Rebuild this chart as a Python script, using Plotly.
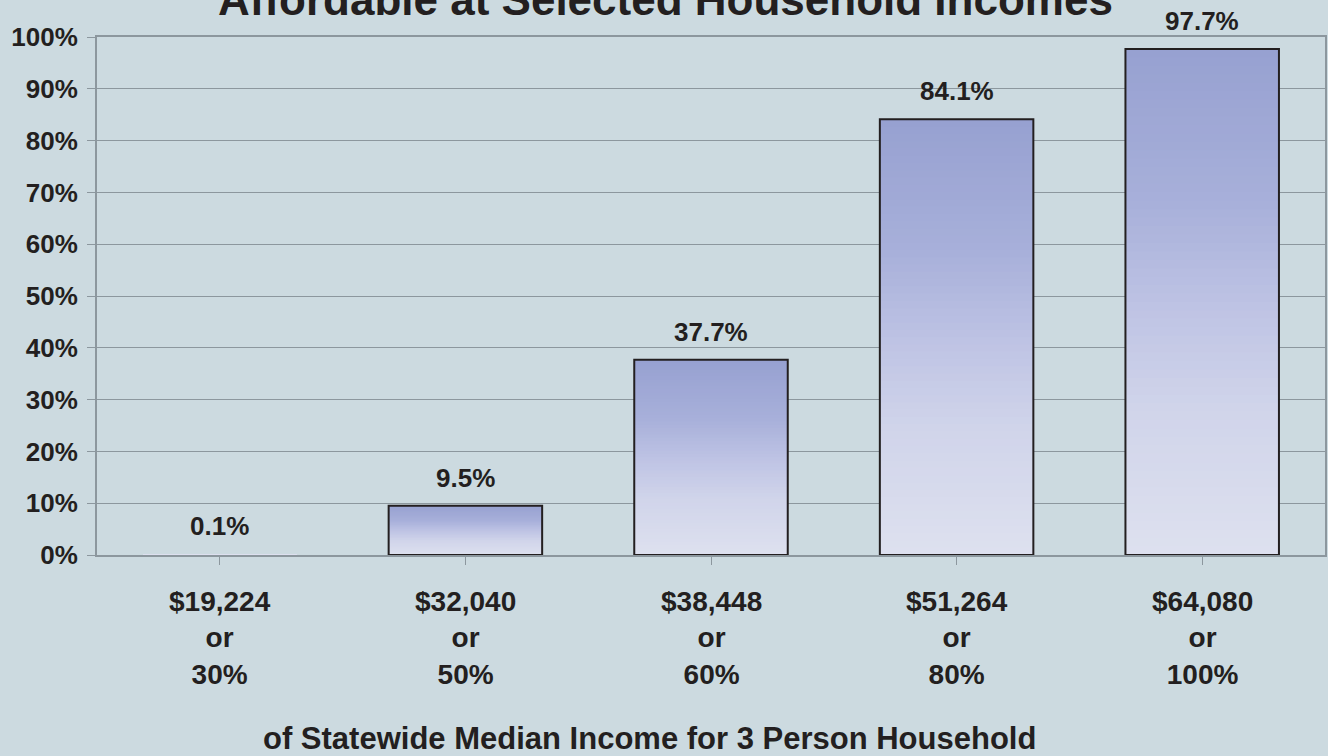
import plotly.graph_objects as go

# ---- data ----
income_labels = ["$19,224", "$32,040", "$38,448", "$51,264", "$64,080"]
pct_of_median = ["30%", "50%", "60%", "80%", "100%"]
share_affordable = [0.1, 9.5, 37.7, 84.1, 97.7]
value_labels = ["0.1%", "9.5%", "37.7%", "84.1%", "97.7%"]
y_ticks = [0, 10, 20, 30, 40, 50, 60, 70, 80, 90, 100]
y_tick_text = [f"{t}%" for t in y_ticks]

title_text = "Affordable at Selected Household Incomes"
xaxis_title = "of Statewide Median Income for 3 Person Household"

# ---- style ----
BG = "#CCDAE0"
TXT = "#231F20"
GRID = "#8C979E"
FONT = "Liberation Sans, Arial, sans-serif"

# gradient stops (fraction of bar height -> rgb)
stops = [(0.0, (222, 225, 239)), (0.3, (208, 212, 234)), (0.5, (190, 195, 228)),
         (0.7, (168, 176, 218)), (1.0, (151, 161, 209))]


def grad_color(f):
    for (f0, c0), (f1, c1) in zip(stops[:-1], stops[1:]):
        if f <= f1:
            t = (f - f0) / (f1 - f0) if f1 > f0 else 0
            c = [round(a + (b - a) * t) for a, b in zip(c0, c1)]
            return f"rgb({c[0]},{c[1]},{c[2]})"
    c = stops[-1][1]
    return f"rgb({c[0]},{c[1]},{c[2]})"


x = list(range(len(income_labels)))
fig = go.Figure()

N = 60
for k in range(N, 0, -1):
    frac = k / N
    fig.add_trace(go.Bar(
        x=x, y=[v * frac for v in share_affordable],
        marker=dict(color=grad_color(frac), line=dict(width=0)),
        hoverinfo="skip", showlegend=False,
    ))

# outline (a sliver-thin bar is hidden under the axis line, as in the source)
fig.add_trace(go.Bar(
    x=x, y=share_affordable,
    marker=dict(color="rgba(0,0,0,0)",
                line=dict(color=TXT, width=[0 if v < 0.5 else 2 for v in share_affordable])),
    hoverinfo="skip", showlegend=False,
))

annotations = []
for xi, v, lab in zip(x, share_affordable, value_labels):
    annotations.append(dict(x=xi, y=v, xref="x", yref="y", text=f"<b>{lab}</b>",
                            showarrow=False, yanchor="bottom", yshift=11,
                            font=dict(family=FONT, size=26, color=TXT)))
for xi, inc, pc in zip(x, income_labels, pct_of_median):
    annotations.append(dict(x=xi, y=0, xref="x", yref="paper",
                            text=f"<b>{inc}<br>or<br>{pc}</b>",
                            showarrow=False, yanchor="top", yshift=-29,
                            font=dict(family=FONT, size=28, color=TXT)))
annotations.append(dict(x=0.4627, y=1, xref="paper", yref="paper", text=f"<b>{title_text}</b>",
                        showarrow=False, yanchor="bottom", yshift=11,
                        font=dict(family=FONT, size=44, color=TXT)))
annotations.append(dict(x=0.4497, y=0, xref="paper", yref="paper", text=f"<b>{xaxis_title}</b>",
                        showarrow=False, yanchor="top", yshift=-164,
                        font=dict(family=FONT, size=31, color=TXT)))

fig.update_layout(
    width=1328, height=756,
    margin=dict(l=97, r=1, t=37, b=201),
    paper_bgcolor=BG, plot_bgcolor=BG,
    barmode="overlay", bargap=0.375,
    annotations=annotations,
    xaxis=dict(range=[-0.5, 4.5], tickvals=x, ticktext=["" for _ in x],
               showgrid=False, zeroline=False, showline=True, mirror=True,
               linecolor=GRID, linewidth=2, ticks="outside", tickson="boundaries",
               ticklen=8, tickcolor=GRID, tickwidth=1, fixedrange=True),
    yaxis=dict(range=[0, 100], tickvals=y_ticks, ticktext=[f"<b>{t}</b>" for t in y_tick_text],
               showgrid=True, gridcolor=GRID, gridwidth=1, zeroline=False,
               showline=True, mirror=True, linecolor=GRID, linewidth=2,
               ticks="outside", ticklen=8, tickcolor=GRID, tickwidth=1,
               ticklabelstandoff=4,
               tickfont=dict(family=FONT, size=26, color=TXT), fixedrange=True),
)

fig.write_html("out.html")
